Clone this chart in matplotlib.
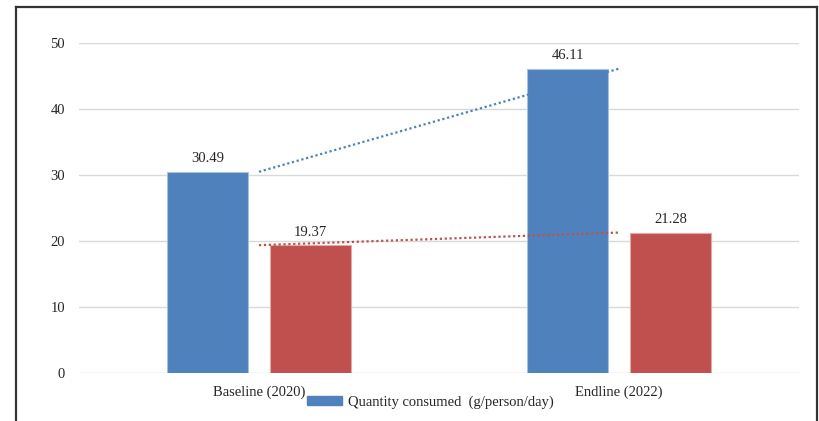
import matplotlib
matplotlib.use("Agg")
import matplotlib.pyplot as plt
from matplotlib.patches import Patch
from matplotlib.lines import Line2D
import numpy as np

plt.rcParams['font.family'] = ['Liberation Serif', 'DejaVu Serif']

categories = ["Baseline (2020)", "Endline (2022)"]
quantity_blue = [30.49, 46.11]
quantity_red = [19.37, 21.28]
legend_label = "Quantity consumed  (g/person/day)"
y_ticks = [0, 10, 20, 30, 40, 50]

blue = "#4F81BD"
red = "#C0504D"
text_color = "#262626"

fig = plt.figure(figsize=(8.19, 4.21), dpi=100)
ax = fig.add_axes([79 / 819, 48 / 421, 720 / 819, 330 / 421])

x = np.arange(len(categories))
width = 0.225
offset = 0.143

ax.bar(x - offset, quantity_blue, width, color=blue, edgecolor="#A9C1E0",
       linewidth=0.8, zorder=3)
ax.bar(x + offset, quantity_red, width, color=red, edgecolor="#E2A9A7",
       linewidth=0.8, zorder=3)

# linear trend lines through each series, drawn over the bars
ax.plot(x, quantity_blue, linestyle=(0, (1, 1.2)), color=blue, linewidth=1.6, zorder=4)
ax.plot(x, quantity_red, linestyle=(0, (1, 1.2)), color=red, linewidth=1.6, zorder=4)

for xi, v in zip(x - offset, quantity_blue):
    ax.text(xi, v + 1.0, f"{v:.2f}", ha="center", va="bottom", fontsize=10.5,
            color=text_color)
for xi, v in zip(x + offset, quantity_red):
    ax.text(xi, v + 1.0, f"{v:.2f}", ha="center", va="bottom", fontsize=10.5,
            color=text_color)

ax.set_xlim(-0.5, 1.5)
ax.set_ylim(0, 50)
ax.set_yticks(y_ticks)
ax.set_xticks(x)
ax.set_xticklabels(categories)
ax.tick_params(axis="both", length=0, labelsize=10.5, colors=text_color)
ax.tick_params(axis="y", pad=10)
ax.tick_params(axis="x", pad=9)
ax.grid(axis="y", color="#D9D9D9", linewidth=1.0, zorder=0)
ax.set_axisbelow(True)
for s in ax.spines.values():
    s.set_visible(False)

handles = [Patch(facecolor=blue, edgecolor=blue)]
fig.legend(handles, [legend_label], loc="center",
           bbox_to_anchor=(430 / 819, 1 - 402 / 421), frameon=False,
           fontsize=10.5, handlelength=2.4, handleheight=0.5,
           handletextpad=0.4, labelcolor=text_color)

# outer frame
fc = "#333333"
fig.add_artist(Line2D([16 / 819, 16 / 819], [0, 1 - 7 / 421], color=fc, lw=1.6))
fig.add_artist(Line2D([817 / 819, 817 / 819], [0, 1 - 7 / 421], color=fc, lw=1.6))
fig.add_artist(Line2D([16 / 819, 817 / 819], [1 - 7 / 421, 1 - 7 / 421], color=fc, lw=1.6))

fig.savefig("out.png", dpi=100)
